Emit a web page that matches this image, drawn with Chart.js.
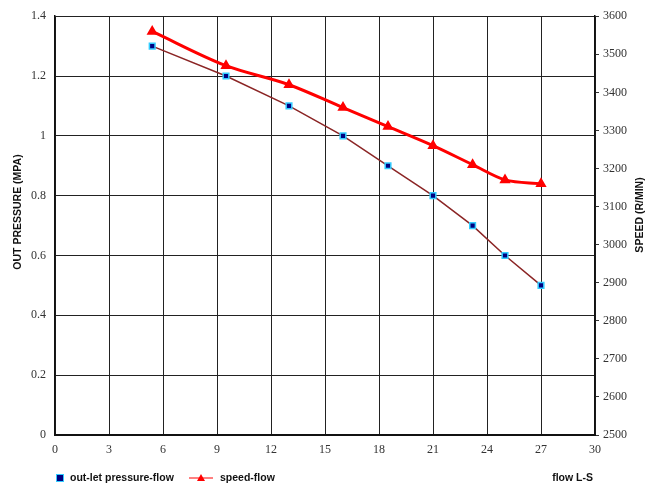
<!DOCTYPE html>
<html>
<head>
<meta charset="utf-8">
<script src="https://cdn.jsdelivr.net/npm/chart.js@4.4.1/dist/chart.umd.min.js"></script>
<style>
  html, body { margin: 0; padding: 0; background: #fff; }
  #wrap { width: 659px; height: 493px; }
</style>
</head>
<body>
<div id="wrap"><canvas id="pumpChart" width="659" height="493"></canvas></div>
<script>
// flow (L/S) readings
var flow = [5.4, 9.5, 13, 16, 18.5, 21, 23.2, 25, 27];
// out-let pressure (MPA)
var pressure = [1.3, 1.2, 1.1, 1.0, 0.9, 0.8, 0.7, 0.6, 0.5];
// motor speed (R/MIN)
var speed = [3560, 3470, 3420, 3360, 3310, 3260, 3210, 3170, 3160];

var flowTicks = [0, 3, 6, 9, 12, 15, 18, 21, 24, 27, 30];
var pressureTicks = [0, 0.2, 0.4, 0.6, 0.8, 1, 1.2, 1.4];
var speedTicks = [2500, 2600, 2700, 2800, 2900, 3000, 3100, 3200, 3300, 3400, 3500, 3600];

var tickFont = { family: "'Liberation Serif', serif", size: 12 };

// titles + legend drawn by hand so they sit where the original has them
var extras = {
    id: "extras",
    afterDraw: function (chart) {
        var ctx = chart.ctx;
        ctx.save();
        ctx.fillStyle = "#111";
        ctx.font = "bold 10.5px 'Liberation Sans', sans-serif";
        ctx.textBaseline = "middle";

        // left axis title
        ctx.save();
        ctx.translate(18, 212);
        ctx.rotate(-Math.PI / 2);
        ctx.textAlign = "center";
        ctx.fillText("OUT PRESSURE (MPA)", 0, 0);
        ctx.restore();

        // right axis title
        ctx.save();
        ctx.translate(640, 215);
        ctx.rotate(-Math.PI / 2);
        ctx.textAlign = "center";
        ctx.fillText("SPEED (R/MIN)", 0, 0);
        ctx.restore();

        // x axis title
        ctx.textAlign = "right";
        ctx.fillText("flow L-S", 593, 478);

        // legend
        var ly = 478;
        ctx.fillStyle = "#33ccff";
        ctx.fillRect(56, ly - 4, 8, 8);
        ctx.fillStyle = "#000080";
        ctx.fillRect(57, ly - 3, 6, 6);
        ctx.fillStyle = "#111";
        ctx.textAlign = "left";
        ctx.fillText("out-let pressure-flow", 70, ly);

        ctx.strokeStyle = "#ff0000";
        ctx.lineWidth = 1;
        ctx.beginPath();
        ctx.moveTo(189, ly);
        ctx.lineTo(213, ly);
        ctx.stroke();
        ctx.fillStyle = "#ff0000";
        ctx.beginPath();
        ctx.moveTo(201, ly - 4);
        ctx.lineTo(205, ly + 3);
        ctx.lineTo(197, ly + 3);
        ctx.closePath();
        ctx.fill();
        ctx.fillStyle = "#111";
        ctx.fillText("speed-flow", 220, ly);
        ctx.restore();
    }
};

var ctx = document.getElementById("pumpChart").getContext("2d");
new Chart(ctx, {
    type: "scatter",
    data: {
        datasets: [{
            label: "out-let pressure-flow",
            data: flow.map(function (f, i) { return { x: f, y: pressure[i] }; }),
            yAxisID: "y",
            showLine: true,
            borderColor: "#8b2525",
            borderWidth: 1.5,
            pointStyle: "rect",
            pointRadius: 4,
            pointBackgroundColor: "#000080",
            pointBorderColor: "#33ccff",
            pointBorderWidth: 1.5,
            order: 2
        }, {
            label: "speed-flow",
            data: flow.map(function (f, i) { return { x: f, y: speed[i] }; }),
            yAxisID: "y2",
            showLine: true,
            borderColor: "#ff0000",
            borderWidth: 3,
            cubicInterpolationMode: "monotone",
            pointStyle: "triangle",
            pointRadius: 3.5,
            pointBackgroundColor: "#ff0000",
            pointBorderColor: "#ff0000",
            order: 1
        }]
    },
    options: {
        responsive: false,
        animation: false,
        layout: { padding: { top: 16, left: 0, right: 0, bottom: 0 } },
        plugins: { legend: { display: false }, tooltip: { enabled: false } },
        scales: {
            x: {
                type: "linear",
                min: 0, max: 30,
                afterBuildTicks: function (s) { s.ticks = flowTicks.map(function (v) { return { value: v }; }); },
                afterFit: function (s) { s.height = 58; },
                grid: { color: "#222", lineWidth: 1, drawTicks: false },
                border: { color: "#111", width: 2 },
                ticks: { font: tickFont, color: "#333", padding: 8, maxRotation: 0 }
            },
            y: {
                position: "left",
                min: 0, max: 1.4,
                afterBuildTicks: function (s) { s.ticks = pressureTicks.map(function (v) { return { value: v }; }); },
                afterFit: function (s) { s.width = 55; },
                grid: { color: "#222", lineWidth: 1, drawTicks: false },
                border: { color: "#111", width: 1.5 },
                ticks: { font: tickFont, color: "#333", padding: 9,
                    callback: function (v) { return String(Math.round(v * 10) / 10); } }
            },
            y2: {
                position: "right",
                min: 2500, max: 3600,
                afterBuildTicks: function (s) { s.ticks = speedTicks.map(function (v) { return { value: v }; }); },
                afterFit: function (s) { s.width = 64; },
                grid: { drawOnChartArea: false, color: "#333", tickLength: 4 },
                border: { color: "#111", width: 1.5 },
                ticks: { font: tickFont, color: "#333", padding: 4,
                    callback: function (v) { return String(v); } }
            }
        }
    },
    plugins: [extras]
});
</script>
</body>
</html>
